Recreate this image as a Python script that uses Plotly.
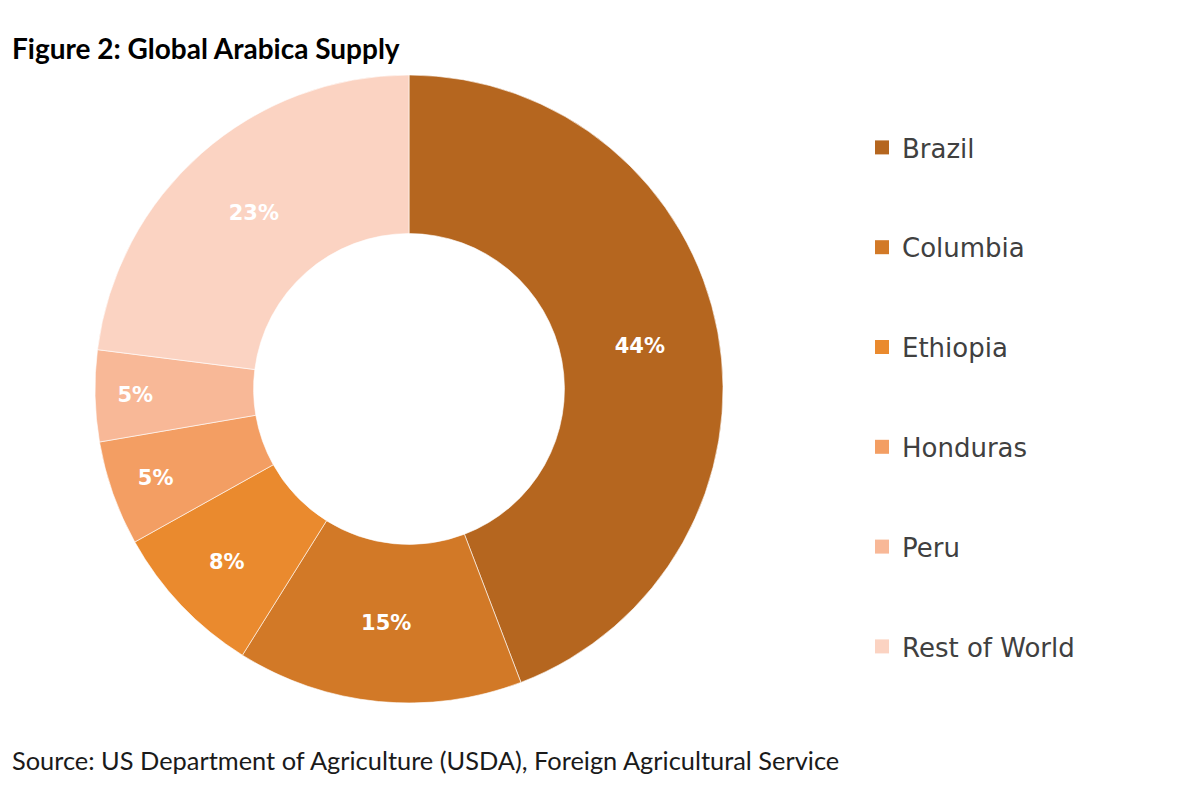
import plotly.graph_objects as go

countries = ["Brazil", "Columbia", "Ethiopia", "Honduras", "Peru", "Rest of World"]
shares = [44.2, 14.7, 8.0, 5.4, 4.7, 23.0]
colors = ["#B5661F", "#D27927", "#EA8A2E", "#F39E63", "#F8B897", "#FBD3C2"]

title_text = "Figure 2: Global Arabica Supply"
source_text = "Source: US Department of Agriculture (USDA), Foreign Agricultural Service"

W, H = 1200, 804
OFF = 8  # page offset compensation

fig = go.Figure()

fig.add_trace(go.Pie(
    labels=countries,
    values=shares,
    sort=False,
    direction="clockwise",
    rotation=0,
    hole=0.495,
    marker=dict(colors=colors, line=dict(color="rgba(255,255,255,0.6)", width=1)),
    texttemplate="%{percent:.0%}",
    textposition="inside",
    insidetextorientation="horizontal",
    textfont=dict(family="DejaVu Sans", size=21, color="white", weight="bold"),
    domain=dict(x=[(95 - OFF) / W, (723 - OFF) / W],
                y=[1 - (703 - OFF) / H, 1 - (75 - OFF) / H]),
    showlegend=False,
    hoverinfo="label+percent",
))

for name, col in zip(countries, colors):
    fig.add_trace(go.Scatter(
        x=[None], y=[None], mode="markers", name=name,
        legendgroup=name,
        marker=dict(symbol="square", size=14, color=col),
        hoverinfo="skip",
    ))

fig.update_layout(
    width=W, height=H,
    margin=dict(l=0, r=0, t=0, b=0),
    paper_bgcolor="white", plot_bgcolor="white",
    xaxis=dict(visible=False), yaxis=dict(visible=False),
    legend=dict(
        x=854 / W, y=1 - 116 / H, xanchor="left", yanchor="top",
        font=dict(family="DejaVu Sans", size=26, color="#404040"),
        tracegroupgap=63, itemwidth=30,
        bgcolor="rgba(0,0,0,0)",
    ),
)

fig.add_annotation(text="<b>" + title_text + "</b>", xref="paper", yref="paper",
                   x=(10 - OFF) / W, y=1 - (48 - OFF) / H, xanchor="left", yanchor="middle",
                   showarrow=False, font=dict(family="Lato", size=28, color="#000000"))
fig.add_annotation(text=source_text, xref="paper", yref="paper",
                   x=(10 - OFF) / W, y=1 - (760 - OFF) / H, xanchor="left", yanchor="middle",
                   showarrow=False, font=dict(family="Lato", size=25.4, color="#1a1a1a"))

fig.write_html("out.html")
